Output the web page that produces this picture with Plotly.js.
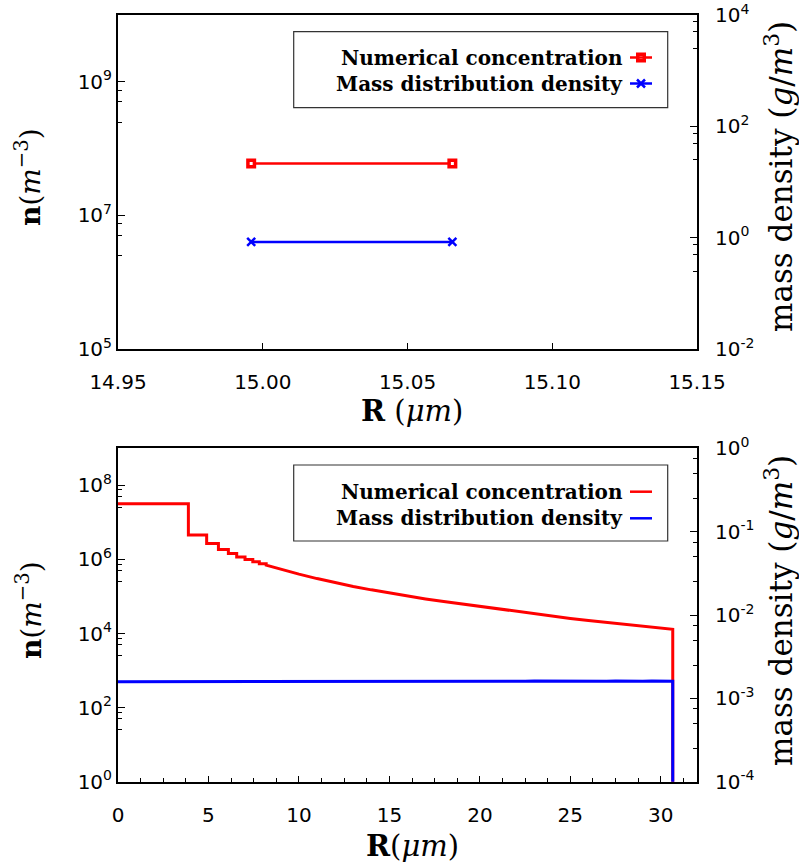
<!DOCTYPE html>
<html>
<head>
<meta charset="utf-8">
<script src="https://cdn.plot.ly/plotly-3.0.1.min.js"></script>
<style>html,body{margin:0;padding:0;background:#fff}</style>
</head>
<body>
<div id="chart" style="width:799px;height:868px"></div>
<script>
// ---- single-radius case (upper panel) ----
const topR = [14.996, 15.0655];
const topConc = [6.0e7, 6.0e7];          // n, m^-3
const topMass = [0.84, 0.84];            // g/m^3

// ---- size distribution (lower panel) ----
// first bins are wide enough to show as steps: bin edges (µm) and levels (m^-3)
const binEdges = [0, 3.89, 4.90, 5.55, 6.10, 6.56, 7.02, 7.45, 7.81, 8.19];
const binConc = [3.2e7, 4.6e6, 2.7e6, 1.85e6, 1.45e6, 1.17e6, 1.0e6, 8.7e5, 7.6e5];
// beyond ~8 µm the bins are narrow and the curve reads as continuous
const tailR = [8.19, 9, 10, 11, 12, 13, 14, 15, 16, 17, 18, 19, 20,
               21, 22, 23, 24, 25, 26, 27, 28, 29, 30, 30.66];
const tailConc = [7.0e5, 5.4e5, 4.0e5, 3.04e5, 2.36e5, 1.87e5, 1.51e5, 1.24e5, 1.03e5, 8.6e4, 7.3e4, 6.25e4, 5.4e4,
                  4.58e4, 3.93e4, 3.39e4, 2.94e4, 2.56e4, 2.25e4, 1.99e4, 1.76e4, 1.57e4, 1.40e4, 1.30e4];
const massR = [0, 2, 4, 6, 8, 10, 12, 13, 14, 15, 16, 17, 18, 19, 20, 21, 22, 22.5, 23, 23.5, 24, 24.5, 25,
               25.5, 26, 26.5, 27, 27.5, 28, 28.5, 29, 29.5, 30, 30.3, 30.66];
const massDen = [1.58e-3, 1.58e-3, 1.58e-3, 1.58e-3, 1.585e-3, 1.59e-3, 1.585e-3, 1.59e-3, 1.59e-3, 1.595e-3,
                 1.6e-3, 1.595e-3, 1.6e-3, 1.6e-3, 1.605e-3, 1.6e-3, 1.61e-3, 1.605e-3, 1.615e-3, 1.61e-3,
                 1.605e-3, 1.61e-3, 1.605e-3, 1.615e-3, 1.605e-3, 1.61e-3, 1.605e-3, 1.615e-3, 1.605e-3, 1.61e-3,
                 1.605e-3, 1.615e-3, 1.605e-3, 1.61e-3, 1.6e-3];
const lastEdge = 30.66;          // no particles past this radius
const emptyN = 1e-3, emptyM = 1e-7;  // zero drawn below the log range

// tick labels
const topXTicks = [14.95, 15.00, 15.05, 15.10, 15.15];
const topXText = ['14.95', '15.00', '15.05', '15.10', '15.15'];
const topNTicks = [5, 7, 9];
const topMTicks = [-2, 0, 2, 4];
const botXTicks = [0, 5, 10, 15, 20, 25, 30];
const botNTicks = [0, 2, 4, 6, 8];
const botMTicks = [-4, -3, -2, -1, 0];
const legendNames = ['Numerical concentration', 'Mass distribution density'];

const RED = '#ff0000', BLUE = '#0000ff';
const W = 799, H = 868;
const px = x => x / W, py = y => 1 - y / H;
const pow10 = e => Math.pow(10, e);
const powLabel = e => '10<sup>' + e + '</sup>';
const minorBelow = exps => exps.flatMap(e => [0.75, 0.5, 0.25].map(f => f * pow10(e)));

// step curve for the lower panel
const stepX = [], stepY = [];
binConc.forEach((v, i) => { stepX.push(binEdges[i], binEdges[i + 1]); stepY.push(v, v); });
const concX = stepX.concat(tailR, [lastEdge]);
const concY = stepY.concat(tailConc, [emptyN]);
const massX = massR.concat([lastEdge]);
const massY = massDen.concat([emptyM]);

const traces = [
  { x: topR, y: topConc, xaxis: 'x', yaxis: 'y', mode: 'lines+markers', showlegend: false,
    line: { color: RED, width: 2.5 },
    marker: { symbol: 'square', size: 6.5, color: '#fff', line: { color: RED, width: 3.5 } } },
  { x: topR, y: topMass, xaxis: 'x', yaxis: 'y2', mode: 'lines+markers', showlegend: false,
    line: { color: BLUE, width: 2.5 },
    marker: { symbol: 'x-thin', size: 8, line: { color: BLUE, width: 2.5 } } },
  { x: concX, y: concY, xaxis: 'x2', yaxis: 'y3', mode: 'lines', showlegend: false,
    line: { color: RED, width: 3 } },
  { x: massX, y: massY, xaxis: 'x2', yaxis: 'y4', mode: 'lines', showlegend: false,
    line: { color: BLUE, width: 3 } },
  // legend symbols (pixel-space helper axes)
  { x: [641], y: [57.5], xaxis: 'x3', yaxis: 'y5', mode: 'markers', showlegend: false,
    marker: { symbol: 'square', size: 6.5, color: '#fff', line: { color: RED, width: 3.5 } } },
  { x: [641], y: [83.5], xaxis: 'x3', yaxis: 'y5', mode: 'markers', showlegend: false,
    marker: { symbol: 'x-thin', size: 8, line: { color: BLUE, width: 2.5 } } }
];

const tickFont = { family: 'DejaVu Sans', size: 20, color: '#000' };
const common = {
  showline: true, linecolor: '#000', linewidth: 2, showgrid: false, zeroline: false,
  ticks: 'inside', tickcolor: '#000', tickwidth: 1, ticklen: 7, tickfont: tickFont
};
const xDom = [px(118), px(697)];
const topDom = [py(349), py(15)];
const botDom = [py(781.7), py(448.3)];
const minorStyle = { tickmode: 'array', ticks: 'inside', ticklen: 4, tickcolor: '#000', tickwidth: 1 };

const layout = {
  width: W, height: H, margin: { l: 0, r: 0, t: 0, b: 0 },
  paper_bgcolor: '#fff', plot_bgcolor: 'rgba(0,0,0,0)', showlegend: false,
  xaxis: Object.assign({}, common, { domain: xDom, anchor: 'y', range: [14.95, 15.15], mirror: true,
    tickmode: 'array', tickvals: topXTicks, ticktext: topXText, ticklen: 6, ticklabelstandoff: 14 }),
  yaxis: Object.assign({}, common, { domain: topDom, anchor: 'x', type: 'log', range: [5, 10], mirror: true,
    tickmode: 'array', tickvals: topNTicks.map(pow10), ticktext: topNTicks.map(powLabel),
    minor: Object.assign({ tickvals: minorBelow([7, 9]) }, minorStyle) }),
  yaxis2: Object.assign({}, common, { overlaying: 'y', side: 'right', anchor: 'x', type: 'log', range: [-2, 4],
    tickmode: 'array', tickvals: topMTicks.map(pow10), ticktext: topMTicks.map(powLabel), ticklabelstandoff: 12,
    minor: Object.assign({ tickvals: minorBelow([0, 2, 4]) }, minorStyle) }),
  xaxis2: Object.assign({}, common, { domain: xDom, anchor: 'y3', range: [0, 32], mirror: true,
    tickmode: 'array', tickvals: botXTicks, ticklen: 6, ticklabelstandoff: 14,
    minor: { dtick: 1.25, tick0: 0, ticks: 'inside', ticklen: 4, tickcolor: '#000', tickwidth: 1 } }),
  yaxis3: Object.assign({}, common, { domain: botDom, anchor: 'x2', type: 'log', range: [0, 9], mirror: true,
    tickmode: 'array', tickvals: botNTicks.map(pow10), ticktext: botNTicks.map(powLabel),
    minor: Object.assign({ tickvals: minorBelow([2, 4, 6, 8]) }, minorStyle) }),
  yaxis4: Object.assign({}, common, { overlaying: 'y3', side: 'right', anchor: 'x2', type: 'log', range: [-4, 0],
    tickmode: 'array', tickvals: botMTicks.map(pow10), ticktext: botMTicks.map(powLabel), ticklabelstandoff: 12,
    minor: Object.assign({ tickvals: minorBelow([-3, -2, -1, 0]) }, minorStyle) }),
  // pixel-space helper axes for the legend boxes
  xaxis3: { domain: [0, 1], range: [0, W], visible: false, fixedrange: true, anchor: 'y5' },
  yaxis5: { domain: [0, 1], range: [H, 0], visible: false, fixedrange: true, anchor: 'x3' },
  shapes: [],
  annotations: []
};

// legend boxes, sample lines and labels
[[31.7, 107.7, 57.5, 83.5], [465, 541, 491.7, 518.3]].forEach(([y0, y1, r1, r2]) => {
  layout.shapes.push({ type: 'rect', xref: 'x3', yref: 'y5', x0: 293.7, x1: 667.7, y0: y0, y1: y1,
    line: { color: '#333', width: 1.2 }, fillcolor: '#fff', layer: 'below' });
  layout.shapes.push({ type: 'line', xref: 'x3', yref: 'y5', x0: 630, x1: 652, y0: r1, y1: r1, line: { color: RED, width: 2.5 } });
  layout.shapes.push({ type: 'line', xref: 'x3', yref: 'y5', x0: 630, x1: 652, y0: r2, y1: r2, line: { color: BLUE, width: 2.5 } });
  [r1, r2].forEach((r, i) => layout.annotations.push({ xref: 'paper', yref: 'paper', x: px(625), y: py(r),
    xanchor: 'right', yanchor: 'middle', showarrow: false, text: legendNames[i],
    font: { family: 'DejaVu Serif', size: 20, color: '#000', weight: 'bold' } }));
});

// axis titles
const serif = (size) => ({ family: 'DejaVu Serif', size: size, color: '#000' });
function title(text, x, y, angle, size) {
  layout.annotations.push({ xref: 'paper', yref: 'paper', x: px(x), y: py(y), xanchor: 'center', yanchor: 'middle',
    showarrow: false, text: text, textangle: angle, font: serif(size) });
}
title('<b>n</b>(<i>m</i><sup>−3</sup>)', 29, 177, -90, 28);
title('<b>n</b>(<i>m</i><sup>−3</sup>)', 29, 610, -90, 28);
title('mass density (<i>g</i>/<i>m</i><sup>3</sup>)', 779, 177, -90, 31);
title('mass density (<i>g</i>/<i>m</i><sup>3</sup>)', 779, 611, -90, 31);
title('<b>R</b> (<i>μm</i>)', 412, 411, 0, 29);
title('<b>R</b>(<i>μm</i>)', 412, 846, 0, 29);

Plotly.newPlot('chart', traces, layout, { displayModeBar: false, staticPlot: true });
</script>
</body>
</html>
